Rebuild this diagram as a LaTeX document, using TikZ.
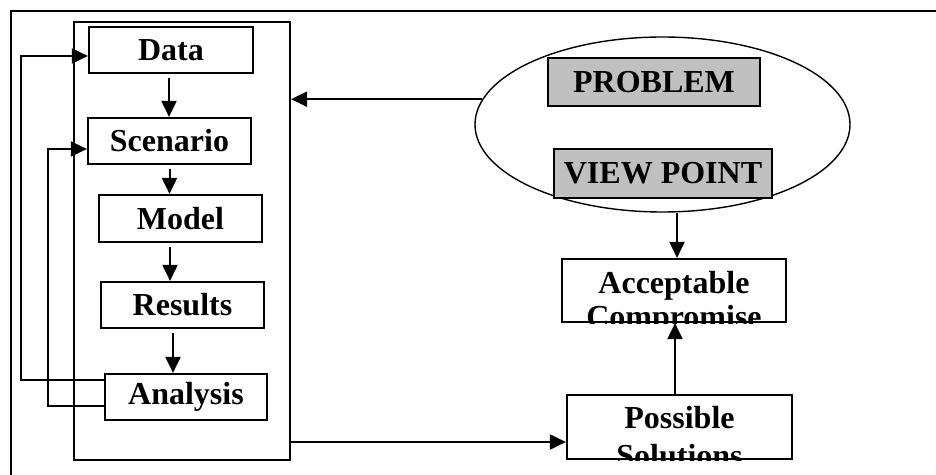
\documentclass[tikz,border=0pt]{standalone}
\usepackage{fontspec}
\setmainfont{Liberation Serif}
\usepackage{xcolor}
\usetikzlibrary{arrows.meta,shapes.geometric}
\definecolor{silver}{RGB}{192,192,192}

\begin{document}
\begin{tikzpicture}[x=0.5pt,y=-0.5pt,>={Triangle[length=8pt,width=7.5pt]},
    box/.style={draw,line width=1.1pt,inner sep=0pt,minimum height=23pt,
        font=\bfseries\fontsize{16}{17}\selectfont},
    greybox/.style={box,fill=silver},
    txt/.style={inner sep=0pt,align=center,font=\bfseries\fontsize{16}{17}\selectfont},
    link/.style={line width=1pt,->}]
    \useasboundingbox (0,0) rectangle (936,475);
    \draw[line width=1pt] (11,475) -- (11,11) -- (936,11);
    % left column
    \node[draw,line width=1.1pt,minimum width=108pt,minimum height=219pt] (frame) at (182,241) {};
    \node[box,minimum width=82pt] (data) at (171,50) {Data};
    \node[box,minimum width=81.5pt] (scen) at (169.5,141) {Scenario};
    \node[box,minimum width=81.5pt,minimum height=23.5pt] (model) at (180.5,218.5) {Model};
    \node[box,minimum width=81.5pt] (results) at (182.5,305) {Results};
    \node[box,minimum width=81pt] (analysis) at (186,397) {Analysis};
    \foreach \a/\b/\dx in {data/scen/-1,scen/model/0,model/results/-5.25,results/analysis/-4.75}{
        \draw[link,shorten <=2pt] ([xshift=\dx pt]\a.south) -- ([xshift=\dx pt]\a.south |- \b.north);
    }
    \draw[link] ([yshift=8.5pt]analysis.west) -- ++(-83,0) |- ([yshift=-3pt]data.west);
    \draw[link] ([yshift=-4.5pt]analysis.west) -- ++(-56,0) |- ([yshift=-4pt]scen.west);
    % right side
    \node[draw,ellipse,line width=0.7pt,inner sep=0pt,minimum width=187.5pt,minimum height=87.5pt] (ell) at (662.5,124.5) {};
    \node[greybox,minimum width=106pt,minimum height=24pt] (problem) at (654,82) {PROBLEM};
    \node[greybox,minimum width=109pt,minimum height=24.5pt] (viewpt) at (663,173.5) {VIEW POINT};
    \node[box,minimum width=112pt,minimum height=31.5pt] (accept) at (674,290.5) {};
    \begin{scope}
        \clip (accept.south west) rectangle (accept.north east);
        \node[txt,anchor=north] (accepttxt) at ([yshift=-6.5pt]accept.north) {Acceptable\\Compromise};
    \end{scope}
    \node[box,minimum width=112.5pt,minimum height=32pt] (poss) at (679.5,427) {};
    \begin{scope}
        \clip (poss.south west) rectangle (poss.north east);
        \node[txt,anchor=north] (posstxt) at ([yshift=-6pt]poss.north) {Possible\\[2pt]Solutions};
    \end{scope}
    \draw[link] (ell.172) -- (ell.172 -| frame.east);
    \draw[link] ([xshift=1.5pt]ell.south -| accept.north) -- ([xshift=1.5pt]accept.north);
    \draw[link] ([xshift=0.5pt]accept.south |- poss.north) -- ([xshift=0.5pt]accept.south);
    \draw[link] ([yshift=-7.5pt]poss.west -| frame.east) -- ([yshift=-7.5pt]poss.west);
\end{tikzpicture}
\end{document}
